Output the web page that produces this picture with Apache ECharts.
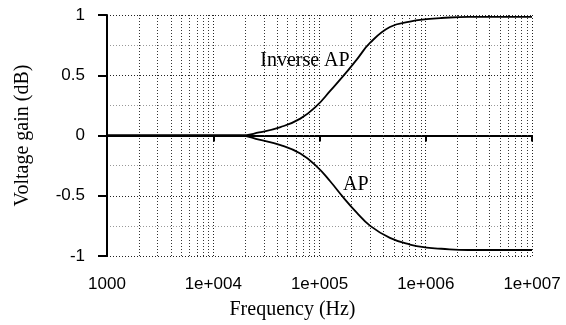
<!DOCTYPE html>
<html>
<head>
<meta charset="utf-8">
<script src="https://cdn.jsdelivr.net/npm/echarts@6/dist/echarts.min.js"></script>
<style>
  html, body { margin: 0; padding: 0; background: #fff; }
  #chart { width: 566px; height: 325px; }
</style>
</head>
<body>
<div id="chart"></div>
<script>
// frequency (Hz) samples
const freq = [1000, 5000, 10000, 18000, 27000, 43000, 66000, 95000, 126000, 166000,
  224000, 300000, 460000, 710000, 1020000, 1400000, 2500000, 5800000, 10000000];
// voltage gain (dB)
const inverseAP = [0, 0, 0, 0, 0.025, 0.07, 0.14, 0.25, 0.37, 0.49,
  0.63, 0.77, 0.9, 0.945, 0.965, 0.975, 0.985, 0.985, 0.985];
const ap = [0, 0, 0, 0, -0.035, -0.08, -0.15, -0.26, -0.38, -0.51,
  -0.64, -0.75, -0.85, -0.905, -0.93, -0.94, -0.95, -0.95, -0.95];

const xTickLabels = ["1000", "1e+004", "1e+005", "1e+006", "1e+007"];
const xDecades = [1000, 10000, 100000, 1000000, 10000000];
// curve labels: [text, freq, gain]
const curveLabels = [["Inverse AP", 73000, 0.62], ["AP", 220000, -0.41]];

// minor vertical grid lines at 2..9 of each decade
const minorGrid = [];
xDecades.slice(0, -1).forEach((d) => {
  for (let k = 2; k <= 9; k++) minorGrid.push({ xAxis: d * k });
});

const dots = [1, 2];
const chart = echarts.init(document.getElementById("chart"), null, { renderer: "canvas" });

chart.setOption({
  animation: false,
  grid: { left: 107, right: 34, top: 15, bottom: 68 },
  xAxis: {
    type: "log",
    logBase: 10,
    min: 1000,
    max: 10000000,
    name: "Frequency (Hz)",
    nameLocation: "middle",
    nameGap: 44,
    nameTextStyle: {
      fontFamily: "Liberation Serif", fontSize: 20, color: "#000",
      padding: [0, 54, 0, 0],
    },
    axisLine: { lineStyle: { color: "#000", width: 2 } },
    axisTick: { length: 6, lineStyle: { color: "#000", width: 2 } },
    axisLabel: {
      margin: 20,
      fontFamily: "Liberation Sans", fontSize: 17, color: "#000",
      formatter: (v) => {
        const i = xDecades.indexOf(Math.round(v));
        return i >= 0 ? xTickLabels[i] : "";
      },
    },
    splitLine: { show: true, lineStyle: { color: "#222", type: dots, width: 1 } },
  },
  yAxis: {
    type: "value",
    min: -1,
    max: 1,
    interval: 0.5,
    name: "Voltage gain (dB)",
    nameLocation: "middle",
    nameGap: 74,
    nameTextStyle: { fontFamily: "Liberation Serif", fontSize: 20, color: "#000" },
    axisLine: { show: true, lineStyle: { color: "#000", width: 2 } },
    axisTick: { show: true, length: 9, lineStyle: { color: "#000", width: 2 } },
    axisLabel: { margin: 22, fontFamily: "Liberation Sans", fontSize: 17, color: "#000" },
    splitLine: { show: true, lineStyle: { color: "#222", type: dots, width: 1 } },
    minorTick: { show: false, splitNumber: 2 },
    minorSplitLine: { show: true, lineStyle: { color: "#999", type: dots, width: 1 } },
  },
  series: [
    {
      name: "Inverse AP",
      type: "line",
      data: freq.map((f, i) => [f, inverseAP[i]]),
      smooth: 0.45,
      symbol: "none",
      lineStyle: { color: "#000", width: 1.8 },
      z: 5,
      markLine: {
        silent: true,
        symbol: "none",
        label: { show: false },
        lineStyle: { color: "#333", type: dots, width: 1 },
        data: minorGrid,
        z: 1,
      },
      markPoint: {
        symbol: "circle",
        symbolSize: 1,
        itemStyle: { color: "rgba(0,0,0,0)" },
        label: {
          show: true, position: "inside",
          fontFamily: "Liberation Serif", fontSize: 20, color: "#000",
          formatter: (p) => p.name,
        },
        data: curveLabels.map((c) => ({ name: c[0], coord: [c[1], c[2]] })),
      },
    },
    {
      name: "AP",
      type: "line",
      data: freq.map((f, i) => [f, ap[i]]),
      smooth: 0.45,
      symbol: "none",
      lineStyle: { color: "#000", width: 1.8 },
      z: 5,
    },
  ],
});
</script>
</body>
</html>
